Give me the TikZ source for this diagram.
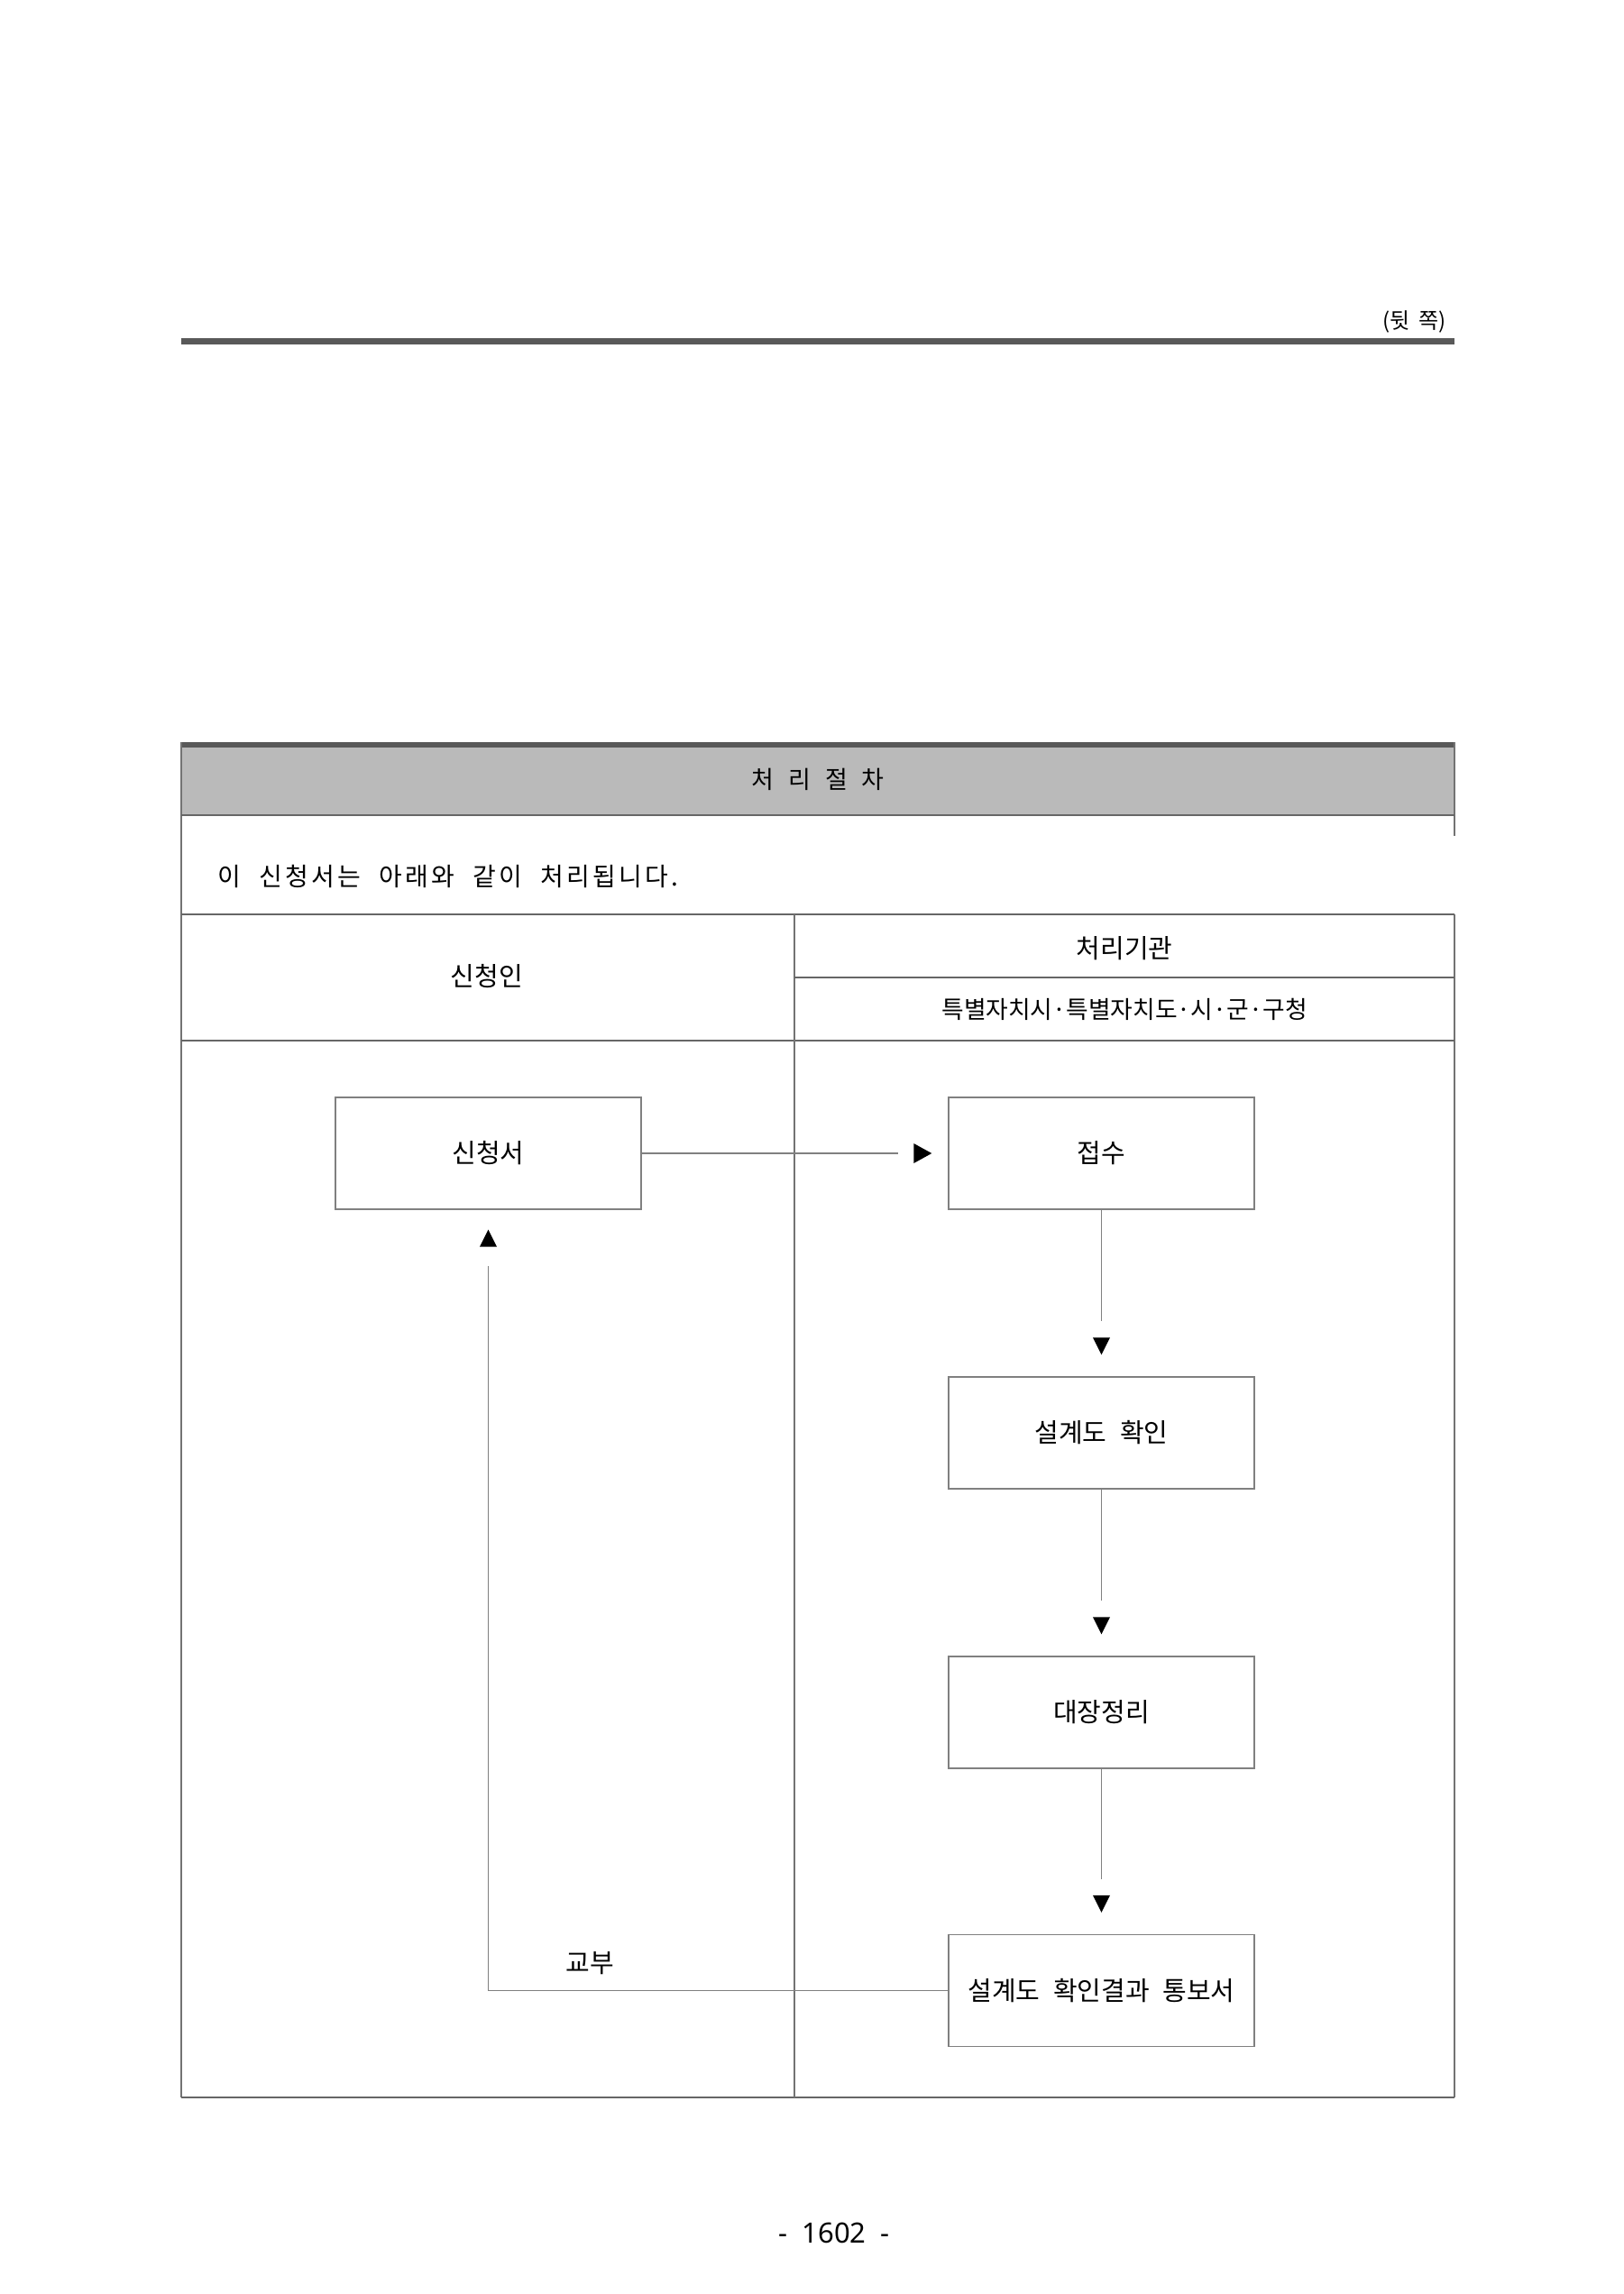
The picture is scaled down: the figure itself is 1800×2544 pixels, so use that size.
\documentclass[tikz,border=0pt]{standalone}
\usepackage{fontspec}
\setmainfont{Noto Sans CJK KR}
\newfontfamily\krsp[LetterSpace=12]{Noto Sans CJK KR}
\newfontfamily\numfont{Noto Sans}
\newcommand{\wsp}{\hspace{10pt}}
\newcommand{\bsp}{\ \hspace{4pt}}
\usetikzlibrary{calc}
\begin{document}
\begin{tikzpicture}[x=0.5pt,y=-0.5pt,
  tline/.style={draw=black!55,line width=0.6pt},
  tlineb/.style={draw=black!60,line width=1pt},
  box/.style={draw=black!50,line width=0.7pt,minimum width=169.5pt,minimum height=62pt,inner sep=0pt,font=\fontsize{14.5}{16}\selectfont},
  lbl/.style={inner sep=0pt,font=\fontsize{14.5}{16}\selectfont},
  conn/.style={draw=black!50,line width=0.6pt},
  tip/.style={fill=black}]
\path[use as bounding box] (0,0) rectangle (1800,2544);
% top rule
\fill[black!65] (201,375) rectangle (1613,382);
\node[inner sep=0pt,anchor=east,font=\fontsize{12}{14}\selectfont] (back) at (1604,357) {(뒷\hspace{5pt}쪽)};
% table header
\fill[black!27] (201,826) rectangle (1613,904);
\fill[black!65] (201,823) rectangle (1613,829);
\node[inner sep=0pt,font=\fontsize{13.5}{15}\selectfont] (title) at (907,864) {처\hspace{8pt}리\hspace{8pt}절\hspace{8pt}차};
% table lines
\draw[tline] (201,823) -- (201,2326);
\draw[tline] (1613,823) -- (1613,927);
\draw[tline] (1613,1014) -- (1613,2326);
\draw[tlineb] (201,904) -- (1613,904);
\draw[tlineb] (201,1014) -- (1613,1014);
\draw[tlineb] (201,1154) -- (1613,1154);
\draw[tlineb] (201,2326) -- (1613,2326);
\draw[tline] (881,1014) -- (881,2326);
\draw[tlineb] (881,1084) -- (1613,1084);
% header texts
\node[lbl,anchor=west,font=\krsp\fontsize{14}{16}\selectfont] (intro) at (241,972) {이\wsp 신청서는\wsp 아래와\wsp 같이\wsp 처리됩니다.};
\node[lbl] (appl) at (540,1083) {신청인};
\node[lbl] (org) at (1247,1052) {처리기관};
\node[lbl,font=\fontsize{13.4}{15}\selectfont] (orgs) at (1247,1119) {특별자치시·특별자치도·시·군·구청};
% boxes
\node[box] (a) at (541.5,1279) {신청서};
\node[box] (b) at (1221.5,1279) {접수};
\node[box] (c) at (1221.5,1589) {설계도\bsp 확인};
\node[box] (d) at (1221.5,1899) {대장정리};
\node[box] (e) at (1221.5,2207.5) {설계도\bsp 확인결과\bsp 통보서};
% connectors
\draw[conn] (a.east) -- ([xshift=-27.5pt]b.west);
\fill[tip] ([xshift=-9pt]b.west) -- ++(-20,-11) -- ++(0,22) -- cycle;
\draw[conn] (b.south) -- ([yshift=30.5pt]c.north);
\fill[tip] ([yshift=12pt]c.north) -- ++(-9.5,-19) -- ++(19,0) -- cycle;
\draw[conn] (c.south) -- ([yshift=30.5pt]d.north);
\fill[tip] ([yshift=12pt]d.north) -- ++(-9.5,-19) -- ++(19,0) -- cycle;
\draw[conn] (d.south) -- ([yshift=30.5pt]e.north);
\fill[tip] ([yshift=12pt]e.north) -- ++(-9.5,-19) -- ++(19,0) -- cycle;
\draw[conn] (e.west) -| ([yshift=-31pt]a.south);
\fill[tip] ([yshift=-11pt]a.south) -- ++(-9.5,19) -- ++(19,0) -- cycle;
\node[lbl] (give) at (654,2177) {교부};
% page number
\node[inner sep=0pt,font=\numfont\fontsize{15.5}{18}\selectfont] (page) at (925,2476) {-\ \ 1602\ \ -};
\end{tikzpicture}
\end{document}
